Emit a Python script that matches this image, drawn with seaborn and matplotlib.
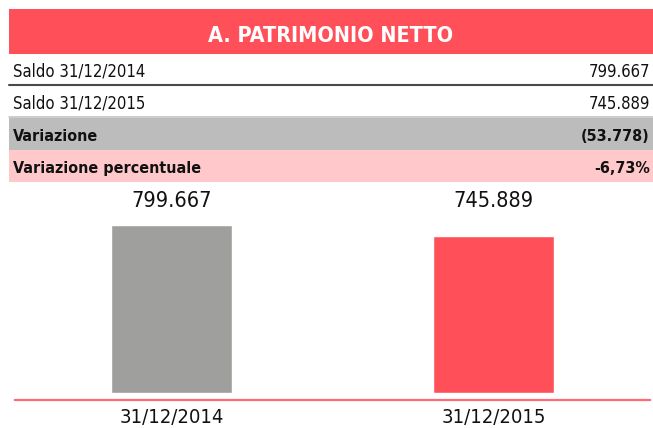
import matplotlib
matplotlib.use("Agg")
import matplotlib.pyplot as plt
from matplotlib.patches import Rectangle
from matplotlib.lines import Line2D
import seaborn as sns
import pandas as pd

# ---- data ----
title = "A. PATRIMONIO NETTO"
row_labels = ["Saldo 31/12/2014", "Saldo 31/12/2015", "Variazione", "Variazione percentuale"]
row_values = ["799.667", "745.889", "(53.778)", "-6,73%"]
categories = ["31/12/2014", "31/12/2015"]
values = [799.667, 745.889]
value_labels = ["799.667", "745.889"]

RED = "#ff505a"
GRAY_BAR = "#9f9f9d"
GRAY_ROW = "#bcbcbc"
PINK_ROW = "#ffc8cb"
LINE_RED = "#ff6b75"

sns.set_theme(style="white")
FONT = ["DejaVu Sans"]
plt.rcParams["font.family"] = FONT
plt.rcParams["font.stretch"] = "condensed"

W, H = 653, 428
fig = plt.figure(figsize=(W / 100, H / 100), dpi=100)

def fx(px):
    return px / W

def fy(py):
    return 1 - py / H

def rect(x0, y0, x1, y1, color):
    fig.add_artist(Rectangle((fx(x0), fy(y1)), fx(x1) - fx(x0), fy(y0) - fy(y1),
                             transform=fig.transFigure, facecolor=color,
                             edgecolor="none", zorder=0))

def hline(x0, x1, y, color, lw):
    fig.add_artist(Line2D([fx(x0), fx(x1)], [fy(y), fy(y)], transform=fig.transFigure,
                          color=color, lw=lw, zorder=1))

# title band
rect(9, 9, 653, 54, RED)
fig.text(fx(331), fy(42), title, color="white", fontsize=15.5, fontweight="bold",
         ha="center", va="baseline", fontstretch="condensed")

# rows
row_tops = [54, 86, 118, 150]
row_bgs = [None, None, GRAY_ROW, PINK_ROW]
row_bold = [False, False, True, True]
for top, bg in zip(row_tops, row_bgs):
    if bg:
        rect(9, top, 653, top + 32, bg)
hline(9, 653, 85, "#4a4a4a", 1.5)
hline(9, 653, 117, "#c4c4c4", 1.2)
for lab, val, top, bold in zip(row_labels, row_values, row_tops, row_bold):
    w = "bold" if bold else "normal"
    fs = 11.5 if bold else 12
    fig.text(fx(13), fy(top + 23), lab, fontsize=fs, fontweight=w, color="#111111",
             ha="left", va="baseline", fontstretch="condensed")
    fig.text(fx(650), fy(top + 23), val, fontsize=fs, fontweight=w, color="#111111",
             ha="right", va="baseline", fontstretch="condensed")

# bar chart
ax = fig.add_axes([fx(15), fy(400), fx(650) - fx(15), fy(190) - fy(400)])
df = pd.DataFrame({"cat": categories, "val": values})
sns.barplot(data=df, x="cat", y="val", hue="cat", palette=[GRAY_BAR, RED],
            width=0.376, legend=False, ax=ax, saturation=1)
ax.set_xlim(-0.486, 1.486)
ax.set_ylim(-35, 966)
ax.set_facecolor("none")
for s in ["top", "left", "right"]:
    ax.spines[s].set_visible(False)
ax.spines["bottom"].set_color(LINE_RED)
ax.spines["bottom"].set_linewidth(1.6)
ax.set_yticks([])
ax.set_xlabel("")
ax.set_ylabel("")
ax.tick_params(axis="x", length=0, pad=6, labelsize=14.5, labelcolor="#111111")
for lbl in ax.get_xticklabels():
    lbl.set_fontstretch("condensed")
for i, t in enumerate(value_labels):
    ax.text(i, 0.919, t, transform=ax.get_xaxis_transform(), ha="center",
            va="baseline", fontsize=15.5, color="#111111", fontstretch="condensed")

fig.savefig("out.png", dpi=100)
